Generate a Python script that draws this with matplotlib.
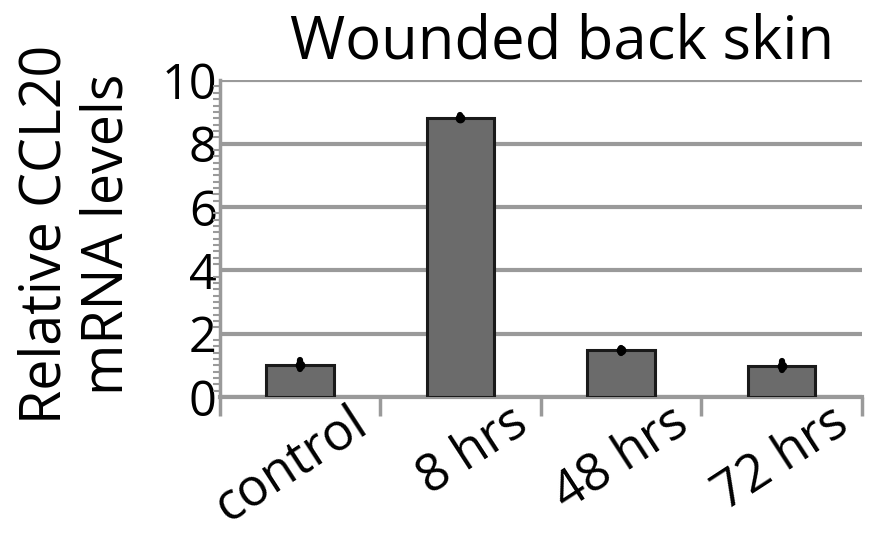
import numpy as np
import matplotlib
matplotlib.use("Agg")
import matplotlib.pyplot as plt
from matplotlib.ticker import MultipleLocator

categories = ["control", "8 hrs", "48 hrs", "72 hrs"]
levels = [1.02, 8.82, 1.47, 0.99]
errors = [0.15, 0.08, 0.08, 0.15]

plt.rcParams["font.family"] = ["Open Sans", "DejaVu Sans"]
GRID = "#9a9a9a"

fig = plt.figure(figsize=(8.75, 5.38), dpi=100)
ax = fig.add_axes([0.251, 0.262, 0.734, 0.589])

x = np.arange(len(categories))
ax.bar(x, levels, width=0.42, color="#6b6b6b", edgecolor="#1a1a1a", linewidth=2.2, zorder=3)
eb = ax.errorbar(x, levels, yerr=errors, fmt="o", ms=6, color="black", ecolor="black",
                 elinewidth=4.5, capsize=0, zorder=4)
for coll in eb.lines[2]:
    coll.set_capstyle("round")

ax.set_xlim(-0.5, len(categories) - 0.5)
ax.set_ylim(0, 10)
ax.yaxis.set_major_locator(MultipleLocator(2))
ax.yaxis.set_minor_locator(MultipleLocator(0.2))
ax.grid(axis="y", color=GRID, linewidth=3, zorder=0)
ax.set_axisbelow(True)

for side in ("top", "right"):
    ax.spines[side].set_visible(False)
ax.spines["left"].set_color(GRID)
ax.spines["left"].set_linewidth(2.5)
ax.spines["bottom"].set_color(GRID)
ax.spines["bottom"].set_linewidth(3)

ax.tick_params(axis="y", which="major", labelsize=35, length=0, pad=2, colors="black")
ax.tick_params(axis="y", which="minor", length=5, width=1.5, color=GRID)

# category boundaries carry the x ticks, labels are placed by hand
ax.set_xticks(np.arange(-0.5, len(categories)), labels=[""] * (len(categories) + 1))
ax.tick_params(axis="x", which="major", length=14, width=2.5, color=GRID)
for i, name in enumerate(categories):
    ax.text(i + 0.3, 0.0, name, transform=ax.get_xaxis_transform(),
            rotation=33, rotation_mode="anchor", ha="right", va="top", fontsize=37)

fig.text(0.088, 0.565, "Relative CCL20\nmRNA levels", rotation=90, ha="center", va="center",
         multialignment="center", fontsize=40, linespacing=1.1)
fig.text(0.642, 0.892, "Wounded back skin", ha="center", va="baseline", fontsize=43)

fig.savefig("out.png", dpi=100)
